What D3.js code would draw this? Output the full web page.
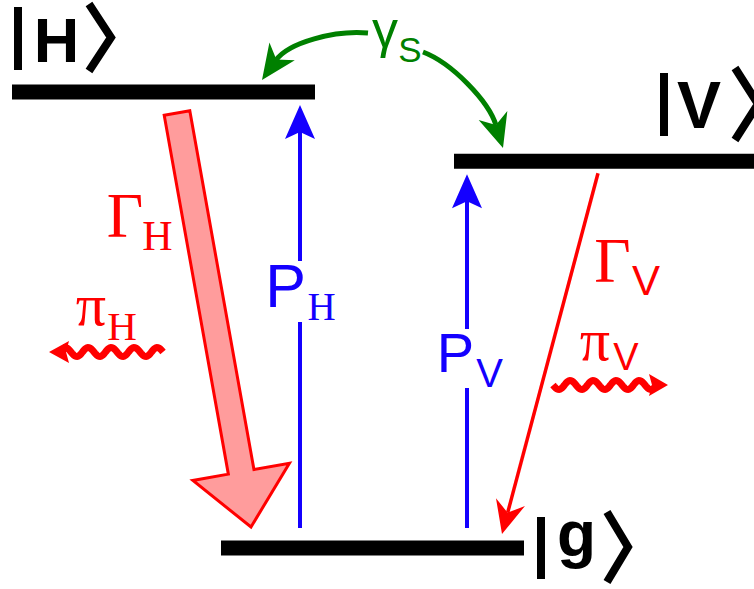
<!DOCTYPE html>
<html>
<head>
<meta charset="utf-8">
<script src="https://cdn.jsdelivr.net/npm/d3@7"></script>
<style>
  html, body { margin: 0; padding: 0; background: #fff; }
  svg { display: block; }
</style>
</head>
<body>
<svg id="chart" width="754" height="589"></svg>
<script>
// ---- data ----
const levelNames = ["H", "V", "g"];
const levelEnergies = [1.0, 0.848, 0.0];           // relative energies
const pumpLabels = ["P", "P"];
const pumpSubs = ["H", "V"];
const pumpTargets = ["H", "V"];
const decayLabels = ["\u0393", "\u0393"];
const decaySubs = ["H", "V"];
const decayFrom = ["H", "V"];
const photonLabels = ["\u03c0", "\u03c0"];
const photonSubs = ["H", "V"];
const spinFlipLabel = ["\u03b3", "S"];

// ---- layout ----
const svg = d3.select("#chart");
const W = 754, H = 589;
const y = d3.scaleLinear().domain([0, 1]).range([548, 92]);
const x = d3.scaleLinear().domain([0, W]).range([0, W]);
const E = name => levelEnergies[levelNames.indexOf(name)];

const SANS = "'Liberation Sans', Arial, sans-serif";
const SERIF = "'Liberation Serif', 'Times New Roman', serif";
const RED = "#ff0000", BLUE = "#1400ff", GREEN = "#008000";

const levelX = { H: [12, 315], V: [454, 760], g: [221, 524] };

// level bars
svg.selectAll("line.level").data(levelNames).enter().append("line")
  .attr("class", "level")
  .attr("x1", d => x(levelX[d][0])).attr("x2", d => x(levelX[d][1]))
  .attr("y1", d => y(E(d))).attr("y2", d => y(E(d)))
  .attr("stroke", "#000").attr("stroke-width", 15);

// ket labels
const kets = {
  H: { bar: 18, txt: 56.5, ang: 89, base: 62, size: 63, top: 7, bot: 70, atop: 4, abot: 71, amid: 111 },
  V: { bar: 664, txt: 699, ang: 735, base: 128, size: 66, top: 73, bot: 136, atop: 68, abot: 140, amid: 758 },
  g: { bar: 541, txt: 576.5, ang: 607, base: 556, size: 64, top: 517, bot: 579, atop: 512, abot: 582, amid: 628 }
};
levelNames.forEach(n => {
  const k = kets[n];
  svg.append("line").attr("x1", k.bar).attr("x2", k.bar).attr("y1", k.top).attr("y2", k.bot)
    .attr("stroke", "#000").attr("stroke-width", 8);
  svg.append("text").attr("x", k.txt).attr("y", k.base).attr("text-anchor", "middle")
    .attr("font-family", SANS).attr("font-weight", "bold").attr("font-size", k.size).text(n);
  svg.append("path")
    .attr("d", d3.line()([[k.ang, k.atop], [k.amid, (k.atop + k.abot) / 2], [k.ang, k.abot]]))
    .attr("fill", "none").attr("stroke", "#000").attr("stroke-width", 8).attr("stroke-linejoin", "miter");
});

// helpers
function norm(v) { const l = Math.hypot(v[0], v[1]); return [v[0] / l, v[1] / l]; }
function headPath(tip, u, L, Wd, N) {
  const n = [-u[1], u[0]];
  const b = [tip[0] - L * u[0], tip[1] - L * u[1]];
  return d3.line()([
    tip,
    [b[0] + Wd * n[0], b[1] + Wd * n[1]],
    [tip[0] - (L - N) * u[0], tip[1] - (L - N) * u[1]],
    [b[0] - Wd * n[0], b[1] - Wd * n[1]]
  ]) + "Z";
}
function labelWithSub(g, main, sub, o) {
  g.append("text").attr("x", o.mx).attr("y", o.my).attr("text-anchor", "middle")
    .attr("font-family", o.mfam).attr("font-size", o.ms).attr("fill", o.color).text(main);
  g.append("text").attr("x", o.sx).attr("y", o.sy).attr("text-anchor", "middle")
    .attr("font-family", o.sfam).attr("font-size", o.ss).attr("fill", o.color).text(sub);
}

// ---- fat decay arrow Gamma_H ----
(function () {
  const top = [177, y(E(decayFrom[0])) + 21];
  const tip = [251, y(E("g")) - 21];
  const u = norm([tip[0] - top[0], tip[1] - top[1]]);
  const n = [-u[1], u[0]];
  const sw = 13, hw = 49, hl = 56;
  const hb = [tip[0] - hl * u[0], tip[1] - hl * u[1]];
  const pts = [
    [top[0] + sw * n[0], top[1] + sw * n[1]],
    [top[0] - sw * n[0], top[1] - sw * n[1]],
    [hb[0] - sw * n[0], hb[1] - sw * n[1]],
    [hb[0] - hw * n[0], hb[1] - hw * n[1]],
    tip,
    [hb[0] + hw * n[0], hb[1] + hw * n[1]],
    [hb[0] + sw * n[0], hb[1] + sw * n[1]]
  ];
  svg.append("path").attr("d", d3.line()(pts) + "Z")
    .attr("fill", "#ff9c9c").attr("stroke", RED).attr("stroke-width", 3).attr("stroke-linejoin", "miter");
})();

// ---- thin decay arrow Gamma_V ----
(function () {
  const top = [598, y(E(decayFrom[1])) + 12];
  const tip = [502, y(E("g")) - 14];
  const u = norm([tip[0] - top[0], tip[1] - top[1]]);
  const end = [tip[0] - 22 * u[0], tip[1] - 22 * u[1]];
  svg.append("line").attr("x1", top[0]).attr("y1", top[1]).attr("x2", end[0]).attr("y2", end[1])
    .attr("stroke", RED).attr("stroke-width", 3.5);
  svg.append("path").attr("d", headPath(tip, u, 33, 15, 11)).attr("fill", RED);
})();

// ---- pump arrows ----
const pumpX = [300, 467];
const pumpLab = [
  { rect: [266, 261, 72, 61], mx: 285.5, my: 307, ms: 61, sx: 321.5, sy: 320, ss: 39, sfam: SERIF },
  { rect: [434, 329, 72, 59], mx: 455.5, my: 372, ms: 56, sx: 489.5, sy: 387, ss: 40, sfam: SANS }
];
pumpTargets.forEach((t, i) => {
  const px = x(pumpX[i]);
  const tip = [px, y(E(t)) + 13];
  const bottom = y(E("g")) - 20;
  svg.append("line").attr("x1", px).attr("x2", px).attr("y1", bottom).attr("y2", tip[1] + 25)
    .attr("stroke", BLUE).attr("stroke-width", 4);
  svg.append("path").attr("d", headPath(tip, [0, -1], 34, 15, 7)).attr("fill", BLUE);
  const o = pumpLab[i];
  svg.append("rect").attr("x", o.rect[0]).attr("y", o.rect[1]).attr("width", o.rect[2]).attr("height", o.rect[3]).attr("fill", "#fff");
  labelWithSub(svg, pumpLabels[i], pumpSubs[i], Object.assign({ mfam: SANS, color: BLUE }, o));
});

// ---- decay labels ----
labelWithSub(svg, decayLabels[0], decaySubs[0], { mx: 125, my: 237, ms: 63, mfam: SERIF, sx: 157.5, sy: 250, ss: 42, sfam: SERIF, color: RED });
labelWithSub(svg, decayLabels[1], decaySubs[1], { mx: 612.5, my: 282, ms: 63, mfam: SERIF, sx: 646, sy: 295, ss: 42, sfam: SANS, color: RED });

// ---- photon wavy arrows ----
function wave(x0, x1, yc, amp, lam) {
  const pts = [];
  const n = Math.ceil(Math.abs(x1 - x0));
  for (let i = 0; i <= n; i++) {
    const xx = x0 + (x1 - x0) * i / n;
    pts.push([xx, yc + amp * Math.sin(2 * Math.PI * (xx - x0) / lam)]);
  }
  return d3.line()(pts);
}
svg.append("path").attr("d", wave(163, 64, 352, 4.5, 23)).attr("fill", "none").attr("stroke", RED).attr("stroke-width", 7);
svg.append("path").attr("d", headPath([49, 352], [-1, 0], 20, 11, 3)).attr("fill", RED);
svg.append("path").attr("d", wave(553, 654, 385, 4.5, 23)).attr("fill", "none").attr("stroke", RED).attr("stroke-width", 7);
svg.append("path").attr("d", headPath([668, 385], [1, 0], 19, 11, 3)).attr("fill", RED);

labelWithSub(svg, photonLabels[0], photonSubs[0], { mx: 91, my: 325, ms: 60, mfam: SERIF, sx: 122, sy: 340, ss: 41, sfam: SERIF, color: RED });
labelWithSub(svg, photonLabels[1], photonSubs[1], { mx: 595, my: 360, ms: 60, mfam: SERIF, sx: 626, sy: 370, ss: 38, sfam: SANS, color: RED });

// ---- spin flip gamma_S ----
(function () {
  const tipL = [262, 80], uL = norm([-20, 28.5]);
  const endL = [tipL[0] - 24 * uL[0], tipL[1] - 24 * uL[1]];
  const c2L = [endL[0] - 22 * uL[0], endL[1] - 22 * uL[1]];
  const pL = d3.path(); pL.moveTo(368, 33); pL.bezierCurveTo(335, 30, c2L[0], c2L[1], endL[0], endL[1]);
  svg.append("path").attr("d", pL.toString()).attr("fill", "none").attr("stroke", GREEN).attr("stroke-width", 5);
  svg.append("path").attr("d", headPath(tipL, uL, 35, 15.5, 10)).attr("fill", GREEN);

  const tipR = [503, 148], uR = norm([10, 32.5]);
  const endR = [tipR[0] - 24 * uR[0], tipR[1] - 24 * uR[1]];
  const c2R = [endR[0] - 25 * uR[0], endR[1] - 25 * uR[1]];
  const pR = d3.path(); pR.moveTo(423, 52); pR.bezierCurveTo(452, 63, c2R[0], c2R[1], endR[0], endR[1]);
  svg.append("path").attr("d", pR.toString()).attr("fill", "none").attr("stroke", GREEN).attr("stroke-width", 5);
  svg.append("path").attr("d", headPath(tipR, uR, 34, 15, 10)).attr("fill", GREEN);

  labelWithSub(svg, spinFlipLabel[0], spinFlipLabel[1], { mx: 385, my: 47, ms: 52, mfam: SANS, sx: 410, sy: 62, ss: 35, sfam: SANS, color: GREEN });
})();
</script>
</body>
</html>
